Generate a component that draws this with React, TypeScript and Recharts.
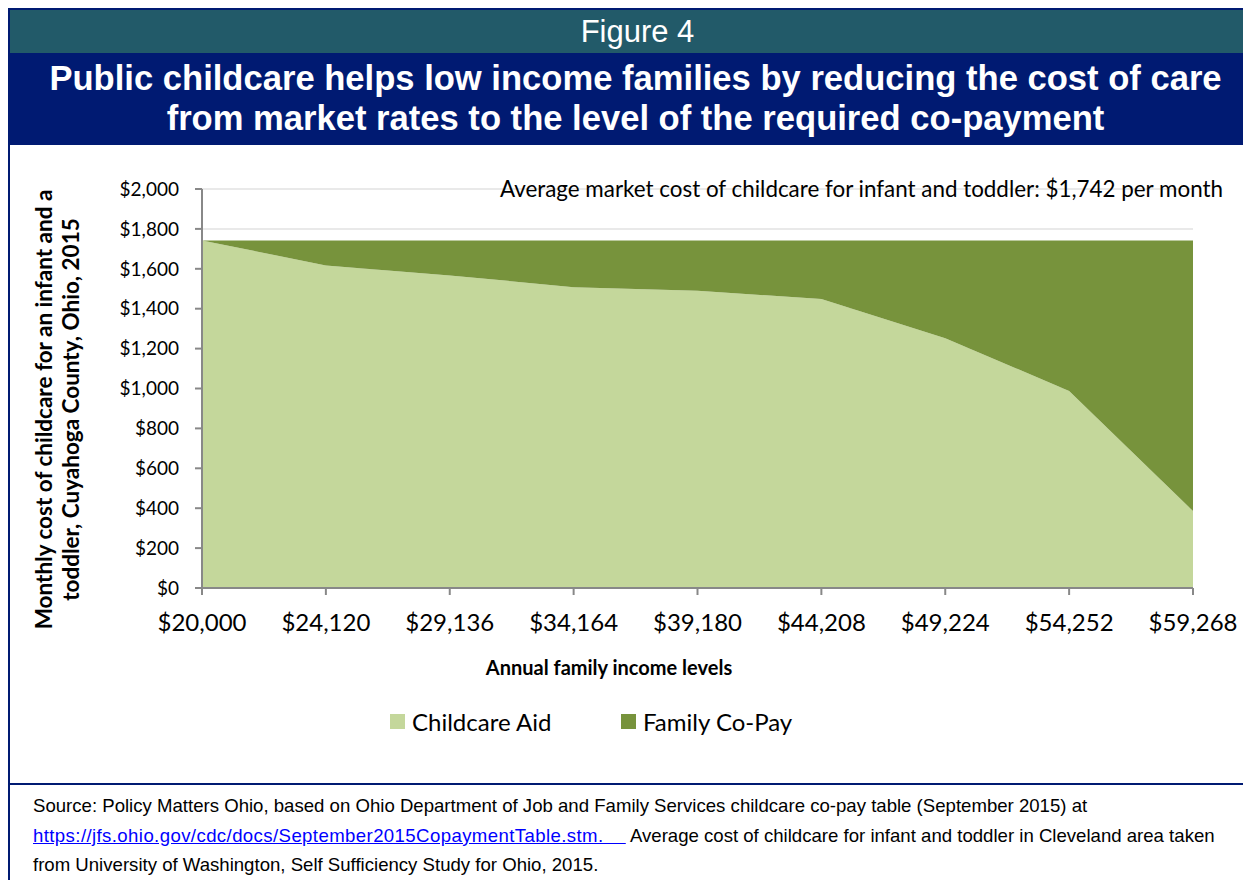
import { Area, AreaChart, CartesianGrid, Label, Legend, XAxis, YAxis } from 'recharts';

// annual family income levels (x categories)
const incomes = ['$20,000', '$24,120', '$29,136', '$34,164', '$39,180', '$44,208', '$49,224', '$54,252', '$59,268'];
// monthly childcare aid paid by the state
const childcareAid = [1742, 1617, 1567, 1508, 1490, 1448, 1252, 988, 386];
// monthly co-payment paid by the family
const familyCoPay = [0, 125, 175, 234, 252, 294, 490, 754, 1356];
const yTicks = [0, 200, 400, 600, 800, 1000, 1200, 1400, 1600, 1800, 2000];

const data = incomes.map((name, i) => ({ name, aid: childcareAid[i], copay: familyCoPay[i] }));

const AID_COLOR = '#C4D79B';
const COPAY_COLOR = '#77933C';
const NAVY = '#001A72';
const CHART_FONT = 'Lato, "Open Sans", sans-serif';

const fmtMoney = (v: number) => '$' + new Intl.NumberFormat('en-US').format(v);

const renderYLabel = (props: any) => {
  const vb = props.viewBox || { x: 0, y: 0, height: 0 };
  const cy = vb.y + vb.height / 2 + 21;
  return (
    <text
      transform={`rotate(-90, 0, ${cy})`}
      x={0}
      y={cy}
      textAnchor="middle"
      fontFamily={CHART_FONT}
      fontWeight="bold"
      fontSize={22.5}
      fill="#000"
    >
      <tspan x={0} y={cy + 42}>Monthly cost of childcare for an infant and a</tspan>
      <tspan x={0} y={cy + 69}>toddler, Cuyahoga County, Ohio, 2015</tspan>
    </text>
  );
};

const renderLegend = () => (
  <div style={{ display: 'flex', fontFamily: CHART_FONT, fontSize: 24, color: '#000' }}>
    <div style={{ display: 'flex', alignItems: 'center', width: 231 }}>
      <span style={{ width: 15, height: 15, background: AID_COLOR, marginRight: 7, display: 'inline-block' }} />
      Childcare Aid
    </div>
    <div style={{ display: 'flex', alignItems: 'center' }}>
      <span style={{ width: 15, height: 15, background: COPAY_COLOR, marginRight: 7, display: 'inline-block' }} />
      Family Co-Pay
    </div>
  </div>
);

export default function App() {
  return (
    <div style={{ position: 'relative', width: 1245, height: 874, borderLeft: `2px solid ${NAVY}`, borderTop: `2px solid ${NAVY}`, fontFamily: '"Liberation Sans", Arial, sans-serif', overflow: 'hidden' }}>
      <div style={{ height: 43, background: '#225A69', color: '#fff', fontSize: 31, lineHeight: '44px', textAlign: 'center' }}>
        <span style={{ position: 'relative', left: 5 }}>Figure 4</span>
      </div>
      <div style={{ height: 92, background: NAVY, color: '#fff', fontSize: 34.6, fontWeight: 'bold', lineHeight: '40px', textAlign: 'center', paddingTop: 5, boxSizing: 'border-box', whiteSpace: 'nowrap' }}>
        <div style={{ position: 'relative', left: 3 }}>Public childcare helps low income families by reducing the cost of care</div>
        <div style={{ position: 'relative', left: 3 }}>from market rates to the level of the required co-payment</div>
      </div>

      <div style={{ position: 'relative', width: 1241, height: 638 }}>
        <AreaChart width={1241} height={638} data={data} margin={{ top: 44, right: 58, bottom: 0, left: 0 }}>
          <CartesianGrid vertical={false} stroke="#E9E9E9" strokeWidth={2} />
          <XAxis
            dataKey="name"
            interval={0}
            tick={{ fontSize: 24, fill: '#000', fontFamily: CHART_FONT }}
            tickLine={{ stroke: '#888', strokeWidth: 2 }}
            axisLine={{ stroke: '#888', strokeWidth: 2 }}
            tickSize={7}
            tickMargin={19}
            height={166}
          />
          <YAxis
            domain={[0, 2000]}
            ticks={yTicks}
            tickFormatter={fmtMoney}
            interval={0}
            tick={{ fontSize: 19, fill: '#000', fontFamily: CHART_FONT }}
            tickLine={{ stroke: '#888', strokeWidth: 2 }}
            axisLine={{ stroke: '#888', strokeWidth: 2 }}
            tickSize={7}
            tickMargin={16}
            width={192}
          >
            <Label content={renderYLabel} />
          </YAxis>
          <Legend content={renderLegend} wrapperStyle={{ left: 380, top: 562, width: 500 }} />
          <Area type="linear" dataKey="aid" name="Childcare Aid" stackId="1" stroke="none" fill={AID_COLOR} fillOpacity={1} isAnimationActive={false} />
          <Area type="linear" dataKey="copay" name="Family Co-Pay" stackId="1" stroke="none" fill={COPAY_COLOR} fillOpacity={1} isAnimationActive={false} />
        </AreaChart>
        <div style={{ position: 'absolute', right: 28, top: 30, fontFamily: CHART_FONT, fontSize: 22.4, color: '#000', whiteSpace: 'nowrap' }}>
          Average market cost of childcare for infant and toddler: $1,742 per month
        </div>
        <div style={{ position: 'absolute', left: 0, width: 1198, top: 510, textAlign: 'center', fontFamily: CHART_FONT, fontSize: 20, fontWeight: 'bold', color: '#000' }}>
          Annual family income levels
        </div>
      </div>

      <div style={{ borderTop: `2px solid ${NAVY}`, padding: '6px 0 0 23px', fontSize: 18.6, lineHeight: '29.5px', color: '#000', whiteSpace: 'nowrap' }}>
        Source: Policy Matters Ohio, based on Ohio Department of Job and Family Services childcare co-pay table (September 2015) at
        <br />
        <span style={{ color: '#0000FF', textDecoration: 'underline', letterSpacing: 0.4 }}>https://jfs.ohio.gov/cdc/docs/September2015CopaymentTable.stm.&nbsp;&nbsp;&nbsp;&nbsp;</span>
        {' '}Average cost of childcare for infant and toddler in Cleveland area taken
        <br />
        from University of Washington, Self Sufficiency Study for Ohio, 2015.
      </div>
    </div>
  );
}
